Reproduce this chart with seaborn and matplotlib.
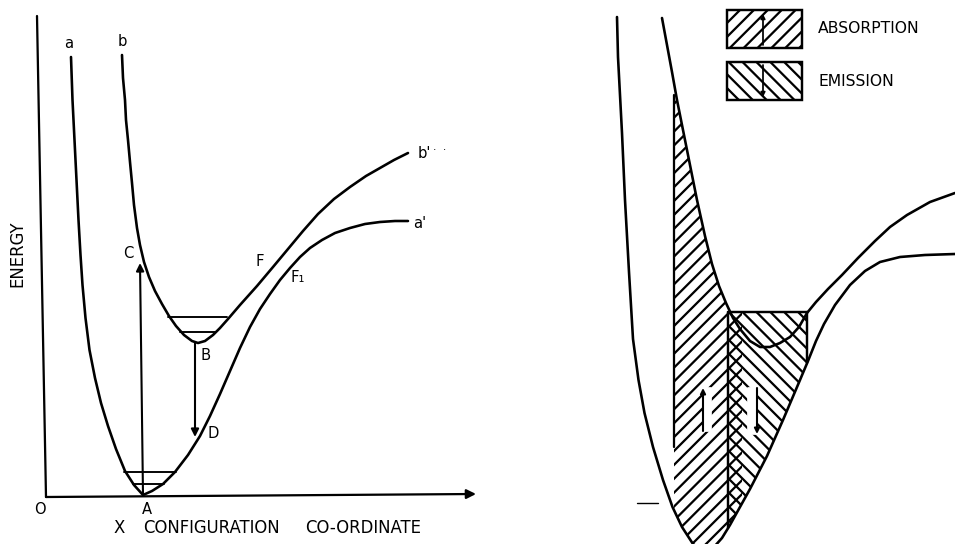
import numpy as np
import matplotlib.pyplot as plt
import seaborn as sns
from matplotlib.patches import Patch

# Styling
sns.set_theme(style="white")
plt.rcParams['font.family'] = ['DejaVu Sans']
plt.rcParams['text.color'] = 'black'
plt.rcParams['hatch.linewidth'] = 1.3
plt.rcParams['hatch.color'] = 'black'

# ===============================
# Curve points (x right, y down, picture units)
# ===============================
# left diagram: ground state a .. a', excited state b .. b'
a_x = [71, 72.5, 74.5, 76.5, 78.5, 80.5, 82.5, 85.5, 89.5, 95, 101, 108, 116, 125, 134, 143,
       152, 163, 175, 188, 200, 210, 220, 230, 240, 250, 260, 270, 280, 290, 300, 310, 322,
       335, 350, 365, 380, 395, 408]
a_y = [57, 100, 140, 180, 220, 255, 285, 318, 350, 378, 403, 426, 449, 471, 485, 495,
       491, 484, 472, 455, 436, 416, 394, 371, 348, 327, 309, 294, 280, 268, 257, 248, 240,
       233, 228, 224, 222, 221, 221]
b_x = [122, 123, 125, 126, 128, 130, 132, 134, 137, 140, 144, 149, 155, 162, 169, 176, 184,
       192, 198, 205, 213, 220, 228, 240, 257, 273, 288, 303, 318, 334, 350, 366, 380, 394, 408]
b_y = [55, 78, 100, 120, 140, 162, 183, 205, 228, 245, 262, 277, 291, 304, 316, 326, 335,
       341, 343, 341, 335, 328, 319, 305, 286, 267, 249, 231, 214, 199, 187, 176, 168, 160, 153]

# vibrational levels in the two wells
levels_a_y = [472, 484]
levels_a_x0 = [124, 133]
levels_a_x1 = [176, 164]
levels_b_y = [317, 332]
levels_b_x0 = [168, 180]
levels_b_x1 = [227, 215]

# right diagram: same two curves, absorption / emission bands
ra_x = [617, 618, 622, 625, 629, 633, 638.5, 644.5, 653, 663, 672.5, 682, 693, 700, 706,
        714, 722, 730, 740, 750, 767, 783, 800, 808, 816, 824, 835, 850, 865, 880, 900, 925, 955]
ra_y = [17, 57, 133, 200, 272, 339, 380, 413, 447, 480, 507, 527, 544, 549, 551,
        547, 538, 525, 507, 489, 456, 420, 380, 361, 341, 324, 305, 285, 271, 262, 257, 255, 254]
rb_x = [662, 667, 672, 677, 687, 697, 705, 712, 719, 726, 733, 740, 750, 760, 770, 780, 790,
        799, 807, 816, 828, 842, 858, 875, 890, 907, 930, 955]
rb_y = [18, 45, 72, 100, 150, 200, 236, 264, 286, 303, 318, 329, 341, 347, 347, 343, 337,
        327, 313, 302, 289, 275, 258, 241, 227, 215, 202, 193]
absorption_band = [674, 742]
emission_band = [728, 807]
band_top = 312

# ===============================
# Text labels
# ===============================
point_labels = ['a', 'b', "b'", "a'", 'C', 'B', 'D', 'F', 'F\u2081', 'O', 'A']
point_x = [69, 122, 424, 420, 128, 206, 213, 260, 298, 40, 147]
point_y = [43, 42, 153, 223, 253, 355, 434, 262, 278, 509, 509]

fig = plt.figure(figsize=(7.64, 4.352), dpi=125)
ax = fig.add_axes([0, 0, 1, 1])
ink = 'black'

# ---- left diagram
for xs, ys in [(a_x, a_y), (b_x, b_y)]:
    sns.lineplot(x=xs, y=ys, sort=False, estimator=None, color=ink, linewidth=1.5, ax=ax)
for y, x0, x1 in zip(levels_a_y + levels_b_y, levels_a_x0 + levels_b_x0, levels_a_x1 + levels_b_x1):
    ax.plot([x0, x1], [y, y], color=ink, lw=1.1)

# axes of the diagram
ax.plot([37, 46], [16, 497], color=ink, lw=1.3)
ax.annotate('', xy=(476, 494), xytext=(46, 497),
            arrowprops=dict(arrowstyle='-|>', color=ink, lw=1.3, mutation_scale=11,
                            shrinkA=0, shrinkB=0))
# absorption A -> C and emission B -> D
ax.annotate('', xy=(140, 263), xytext=(143, 495),
            arrowprops=dict(arrowstyle='-|>', color=ink, lw=1.2, mutation_scale=9,
                            shrinkA=0, shrinkB=0))
ax.annotate('', xy=(195, 437), xytext=(195, 343),
            arrowprops=dict(arrowstyle='-|>', color=ink, lw=1.2, mutation_scale=9,
                            shrinkA=0, shrinkB=0))

for s, x, y in zip(point_labels, point_x, point_y):
    ax.text(x, y, s, fontsize=8.5, ha='center', va='center', color=ink)
ax.text(433, 150, '\u00b7  \u00b7', fontsize=6, ha='left', va='center', color=ink)
ax.text(17, 254, 'ENERGY', fontsize=9.5, rotation=90, ha='center', va='center', color=ink)
ax.text(114, 528, 'X', fontsize=9.5, ha='left', va='center', color=ink)
ax.text(143, 528, 'CONFIGURATION', fontsize=9.5, ha='left', va='center', color=ink)
ax.text(305, 528, 'CO-ORDINATE', fontsize=9.5, ha='left', va='center', color=ink)

# ---- right diagram: hatched bands
xa = np.linspace(absorption_band[0], absorption_band[1], 300)
ax.fill_between(xa, np.minimum(np.interp(xa, rb_x, rb_y), band_top), np.interp(xa, ra_x, ra_y),
                facecolor='none', edgecolor=ink, hatch='///', linewidth=0)
xe = np.linspace(emission_band[0], emission_band[1], 300)
ax.fill_between(xe, band_top, np.interp(xe, ra_x, ra_y),
                facecolor='none', edgecolor=ink, hatch='\\\\\\', linewidth=0)

# small arrows inside the bands, with a clear strip beside them
ax.fill_between([704, 711], 388, 431, color='white', zorder=3)
ax.annotate('', xy=(703, 388), xytext=(703, 431),
            arrowprops=dict(arrowstyle='-|>', color=ink, lw=1.2, mutation_scale=6,
                            shrinkA=0, shrinkB=0), zorder=4)
ax.fill_between([748, 756], 388, 434, color='white', zorder=3)
ax.annotate('', xy=(757, 434), xytext=(757, 388),
            arrowprops=dict(arrowstyle='-|>', color=ink, lw=1.2, mutation_scale=6,
                            shrinkA=0, shrinkB=0), zorder=4)

for xs, ys in [(ra_x, ra_y), (rb_x, rb_y)]:
    sns.lineplot(x=xs, y=ys, sort=False, estimator=None, color=ink, linewidth=1.5, ax=ax)

# band outlines
x0 = absorption_band[0]
ax.plot([x0, x0], [np.interp(x0, rb_x, rb_y) + 12, 447], color=ink, lw=1.3)
e0, e1 = emission_band
ax.plot([e0, e0], [band_top, np.interp(e0, ra_x, ra_y)], color=ink, lw=1.4)
ax.plot([e0, e1], [band_top, band_top], color=ink, lw=1.4)
ax.plot([e1, e1], [band_top, np.interp(e1, ra_x, ra_y)], color=ink, lw=1.4)
ax.plot([637, 658], [503, 503], color=ink, lw=0.8)

# legend
handles = [Patch(facecolor='white', edgecolor=ink, hatch='///', linewidth=1.4, label='ABSORPTION'),
           Patch(facecolor='white', edgecolor=ink, hatch='\\\\\\', linewidth=1.4, label='EMISSION')]
ax.legend(handles=handles, loc='upper left', bbox_to_anchor=(727, 10),
          bbox_transform=ax.transData, frameon=False, fontsize=9, handlelength=4.8,
          handleheight=3.37, labelspacing=0.9, handletextpad=1.03, borderpad=0,
          borderaxespad=0)
ax.annotate('', xy=(763, 14), xytext=(763, 45),
            arrowprops=dict(arrowstyle='-|>', color=ink, lw=1.0, mutation_scale=5,
                            shrinkA=0, shrinkB=0), zorder=7)
ax.annotate('', xy=(763, 97), xytext=(763, 65),
            arrowprops=dict(arrowstyle='-|>', color=ink, lw=1.0, mutation_scale=5,
                            shrinkA=0, shrinkB=0), zorder=7)

ax.set_xlim(0, 955)
ax.set_ylim(544, 0)
ax.axis('off')

fig.savefig('out.png', dpi=125)
